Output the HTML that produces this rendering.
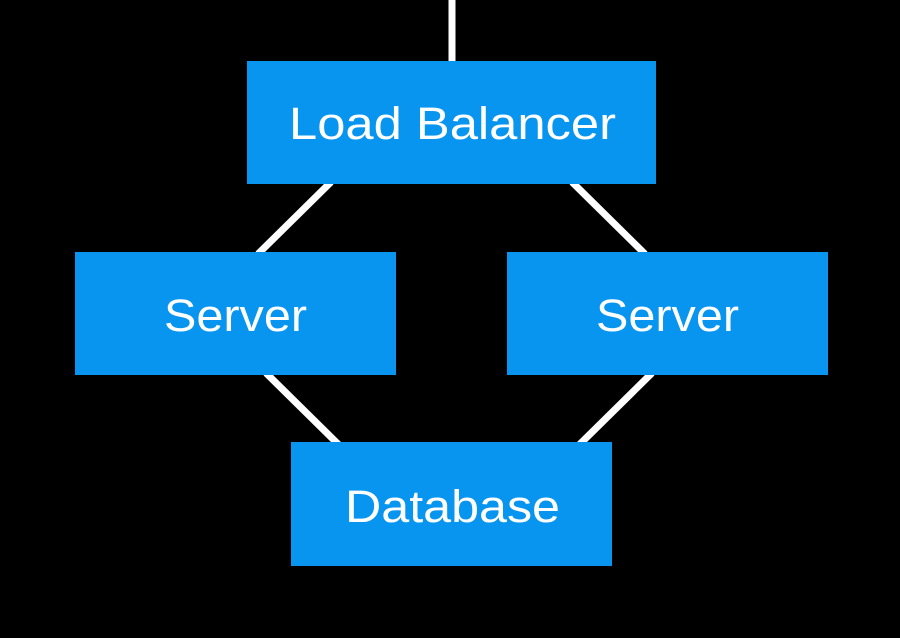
<!DOCTYPE html>
<html><head><style>html,body{margin:0;padding:0;background:#000;}svg{display:block}</style></head>
<body>
<svg width="900" height="638" viewBox="0 0 900 638" xmlns="http://www.w3.org/2000/svg">
<rect width="900" height="638" fill="#000"/>
<g stroke="#fff" stroke-width="7">
<line x1="452" y1="0" x2="452" y2="62"/>
<line x1="331" y1="182" x2="258" y2="254"/>
<line x1="572" y1="182" x2="645" y2="254"/>
<line x1="266" y1="373" x2="339" y2="445"/>
<line x1="652" y1="373" x2="579" y2="445"/>
</g>
<g fill="#0795f0">
<rect x="247" y="61" width="409" height="123"/>
<rect x="75" y="252" width="321" height="123"/>
<rect x="507" y="252" width="321" height="123"/>
<rect x="291" y="442" width="321" height="124"/>
</g>
<g fill="#fff" font-family="Liberation Sans, sans-serif" font-size="45" font-weight="500">
<text x="289" y="139" textLength="327" lengthAdjust="spacingAndGlyphs">Load Balancer</text>
<text x="164" y="331" textLength="143" lengthAdjust="spacingAndGlyphs">Server</text>
<text x="596" y="331" textLength="143" lengthAdjust="spacingAndGlyphs">Server</text>
<text x="345" y="522" textLength="215" lengthAdjust="spacingAndGlyphs">Database</text>
</g>
</svg>
</body></html>
